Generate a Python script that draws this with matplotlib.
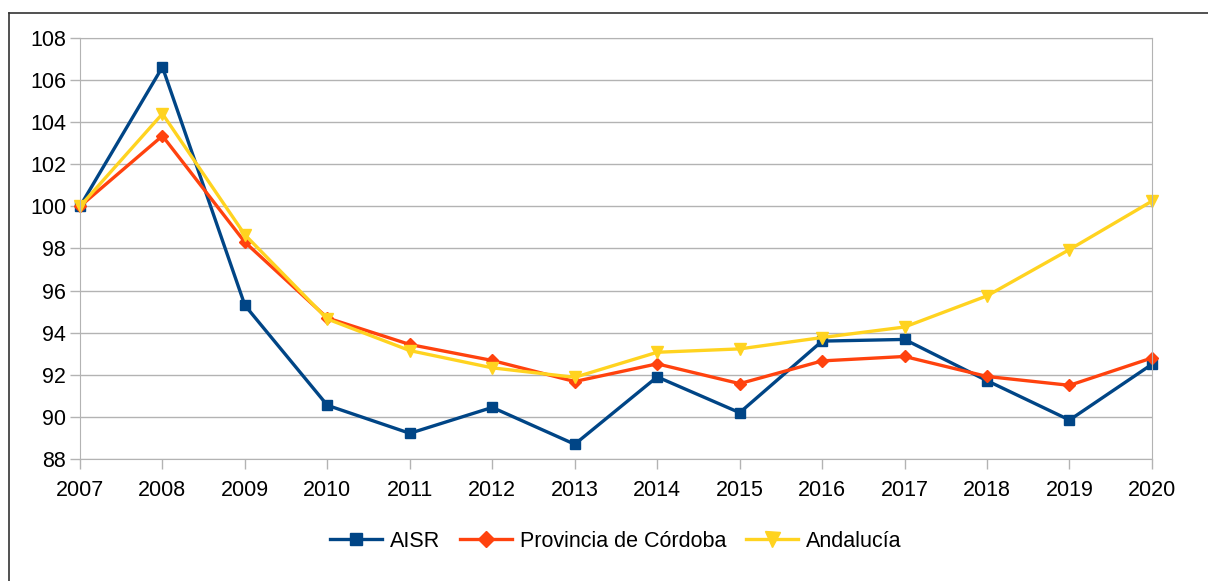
import numpy as np
import matplotlib.pyplot as plt
from matplotlib.lines import Line2D

plt.rcParams['font.family'] = ['Liberation Sans', 'DejaVu Sans']

years = [2007, 2008, 2009, 2010, 2011, 2012, 2013, 2014, 2015, 2016, 2017, 2018, 2019, 2020]
aisr = [100.0, 106.62, 95.3, 90.55, 89.22, 90.45, 88.7, 91.9, 90.2, 93.6, 93.68, 91.72, 89.85, 92.5]
cordoba = [100.0, 103.35, 98.3, 94.7, 93.44, 92.68, 91.68, 92.52, 91.58, 92.66, 92.87, 91.92, 91.5, 92.8]
andalucia = [100.0, 104.4, 98.65, 94.65, 93.15, 92.33, 91.88, 93.07, 93.23, 93.77, 94.27, 95.75, 97.95, 100.25]

grid_c = '#b3b3b3'

fig = plt.figure(figsize=(12.08, 5.81), dpi=100)
ax = fig.add_axes([0.0662, 0.2100, 0.8874, 0.7246])

ax.plot(years, aisr, color='#004586', lw=2.4, marker='s', ms=7, label='AISR', clip_on=False)
ax.plot(years, cordoba, color='#ff420e', lw=2.4, marker='D', ms=6.5, label='Provincia de Córdoba', clip_on=False)
ax.plot(years, andalucia, color='#ffd320', lw=2.4, marker='v', ms=9, label='Andalucía', clip_on=False)

ax.set_xlim(2007, 2020)
ax.set_ylim(88, 108)
ax.set_xticks(years)
ax.set_yticks(np.arange(88, 109, 2))
ax.grid(True, axis='y', color=grid_c, lw=1)
ax.set_axisbelow(True)
for s in ax.spines.values():
    s.set_color(grid_c)
ax.tick_params(colors=grid_c, labelcolor='black', labelsize=15.5, length=7, width=1)
ax.tick_params(axis='x', pad=8)
ax.tick_params(axis='y', pad=3)

ax.legend(loc='upper center', bbox_to_anchor=(0.5, -0.125), ncol=3, frameon=False,
          fontsize=15.5, handlelength=2.4, columnspacing=0.9, handletextpad=0.4,
          markerscale=1.2)

# outer frame of the chart object
fig.add_artist(Line2D([9/1208, 9/1208], [0, 1 - 13/581], transform=fig.transFigure, color='#333333', lw=1.2))
fig.add_artist(Line2D([9/1208, 1], [1 - 13/581, 1 - 13/581], transform=fig.transFigure, color='#333333', lw=1.2))

fig.savefig('out.png', dpi=100)
